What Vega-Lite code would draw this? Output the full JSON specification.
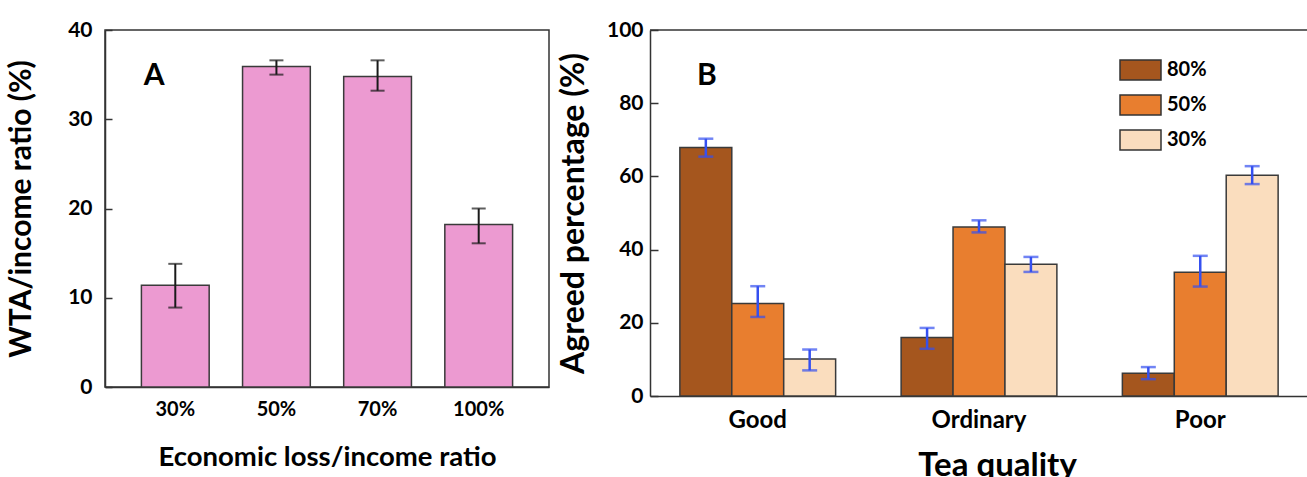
{
  "$schema": "https://vega.github.io/schema/vega-lite/v6.json",
  "background": "white",
  "padding": {"left": 5, "top": 18, "right": 0, "bottom": 0},
  "spacing": 101,
  "bounds": "flush",
  "config": {
    "font": "Lato",
    "view": {"stroke": null},
    "axis": {
      "labelFont": "Lato", "titleFont": "Lato",
      "labelFontWeight": "bold", "titleFontWeight": "bold",
      "labelColor": "#000", "titleColor": "#000",
      "domainColor": "#333", "tickColor": "#333",
      "domainWidth": 1.5, "tickWidth": 1.5,
      "grid": false, "zindex": 1
    }
  },
  "hconcat": [
    {
      "width": 444,
      "height": 357,
      "view": {"stroke": "#333", "strokeWidth": 1.5},
      "data": {"values": [
        {"loss": "30%", "v": 11.4, "lo": 8.9, "hi": 13.8},
        {"loss": "50%", "v": 35.9, "lo": 35.0, "hi": 36.6},
        {"loss": "70%", "v": 34.8, "lo": 33.2, "hi": 36.6},
        {"loss": "100%", "v": 18.2, "lo": 16.1, "hi": 20.0}
      ]},
      "encoding": {
        "x": {
          "field": "loss", "type": "nominal", "sort": ["30%", "50%", "70%", "100%"],
          "scale": {"paddingInner": 0.33, "paddingOuter": 0.36},
          "axis": {
            "title": "Economic loss/income ratio", "titleFontSize": 27.5, "titlePadding": 24,
            "labelFontSize": 20, "labelAngle": 0, "tickSize": -8, "labelPadding": 20
          }
        }
      },
      "layer": [
        {
          "mark": {"type": "bar", "fill": "#EC9AD1", "stroke": "#3a3a3a", "strokeWidth": 1.5},
          "encoding": {
            "y": {
              "field": "v", "type": "quantitative",
              "scale": {"domain": [0, 40]},
              "axis": {
                "title": "WTA/income ratio (%)", "titleFontSize": 30, "titlePadding": 31,
                "values": [0, 10, 20, 30, 40], "labelFontSize": 21,
                "tickSize": -7, "labelPadding": 20
              }
            }
          }
        },
        {
          "mark": {"type": "rule", "color": "#1a1a1a", "strokeWidth": 2},
          "encoding": {"y": {"field": "lo", "type": "quantitative"}, "y2": {"field": "hi"}}
        },
        {
          "mark": {"type": "tick", "color": "#1a1a1a", "thickness": 2, "size": 14},
          "encoding": {"y": {"field": "lo", "type": "quantitative"}}
        },
        {
          "mark": {"type": "tick", "color": "#1a1a1a", "thickness": 2, "size": 14},
          "encoding": {"y": {"field": "hi", "type": "quantitative"}}
        },
        {
          "data": {"values": [{"label": "A"}]},
          "mark": {"type": "text", "fontSize": 30, "fontWeight": "bold", "font": "Lato", "dx": -21, "baseline": "middle", "align": "center", "color": "#000"},
          "encoding": {
            "x": {"datum": "30%"},
            "y": {"datum": 34.8},
            "text": {"field": "label"}
          }
        }
      ]
    },
    {
      "width": 658,
      "height": 366,
      "data": {"values": [
        {"q": "Good", "s": "80%", "v": 67.9, "lo": 65.4, "hi": 70.3},
        {"q": "Good", "s": "50%", "v": 25.3, "lo": 21.6, "hi": 30.0},
        {"q": "Good", "s": "30%", "v": 10.1, "lo": 7.0, "hi": 12.7},
        {"q": "Ordinary", "s": "80%", "v": 16.0, "lo": 12.9, "hi": 18.6},
        {"q": "Ordinary", "s": "50%", "v": 46.2, "lo": 44.7, "hi": 48.0},
        {"q": "Ordinary", "s": "30%", "v": 36.0, "lo": 33.9, "hi": 38.0},
        {"q": "Poor", "s": "80%", "v": 6.2, "lo": 4.6, "hi": 7.9},
        {"q": "Poor", "s": "50%", "v": 33.8, "lo": 29.9, "hi": 38.3},
        {"q": "Poor", "s": "30%", "v": 60.3, "lo": 57.9, "hi": 62.8}
      ]},
      "layer": [
        {
          "mark": {"type": "bar", "stroke": "#3a3a3a", "strokeWidth": 1.5},
          "encoding": {
            "x": {
              "field": "q", "type": "nominal", "sort": ["Good", "Ordinary", "Poor"],
              "scale": {"paddingInner": 0.296, "paddingOuter": 0.135, "align": 0.5},
              "axis": {
                "title": "Tea quality", "titleFontSize": 33, "titlePadding": 17, "titleX": 347,
                "labelFontSize": 24, "labelAngle": 0, "tickSize": -8, "labelPadding": 20
              }
            },
            "xOffset": {
              "field": "s", "type": "nominal", "sort": ["80%", "50%", "30%"],
              "scale": {"paddingInner": 0, "paddingOuter": 0}
            },
            "y": {
              "field": "v", "type": "quantitative",
              "scale": {"domain": [0, 100]},
              "axis": {
                "title": "Agreed percentage (%)", "titleFontSize": 32, "titlePadding": 16,
                "values": [0, 20, 40, 60, 80, 100], "labelFontSize": 21,
                "tickSize": -8, "labelPadding": 15
              }
            },
            "color": {
              "field": "s", "type": "nominal",
              "scale": {"domain": ["80%", "50%", "30%"], "range": ["#A5561E", "#E87E2F", "#FADDBE"]},
              "legend": {
                "title": null, "orient": "none", "legendX": 1014, "legendY": 18.5,
                "symbolType": "M-1,-0.49L1,-0.49L1,0.49L-1,0.49Z", "symbolSize": 1681,
                "symbolStrokeColor": "#333", "symbolStrokeWidth": 1.5, "symbolOpacity": 1,
                "labelFont": "Lato", "labelFontWeight": "bold", "labelFontSize": 20, "labelColor": "#000",
                "labelOffset": 5, "rowPadding": -9, "padding": 0
              }
            }
          }
        },
        {
          "mark": {"type": "rule", "color": "#3550F0", "strokeWidth": 2.5},
          "encoding": {
            "x": {"field": "q", "type": "nominal", "sort": ["Good", "Ordinary", "Poor"]},
            "xOffset": {"field": "s", "type": "nominal", "sort": ["80%", "50%", "30%"]},
            "y": {"field": "lo", "type": "quantitative"}, "y2": {"field": "hi"}
          }
        },
        {
          "mark": {"type": "tick", "color": "#3550F0", "thickness": 2.5, "size": 15},
          "encoding": {
            "x": {"field": "q", "type": "nominal", "sort": ["Good", "Ordinary", "Poor"]},
            "xOffset": {"field": "s", "type": "nominal", "sort": ["80%", "50%", "30%"]},
            "y": {"field": "lo", "type": "quantitative"}
          }
        },
        {
          "mark": {"type": "tick", "color": "#3550F0", "thickness": 2.5, "size": 15},
          "encoding": {
            "x": {"field": "q", "type": "nominal", "sort": ["Good", "Ordinary", "Poor"]},
            "xOffset": {"field": "s", "type": "nominal", "sort": ["80%", "50%", "30%"]},
            "y": {"field": "hi", "type": "quantitative"}
          }
        },
        {
          "data": {"values": [{"top": 100}]},
          "mark": {"type": "rule", "color": "#333", "strokeWidth": 1.5},
          "encoding": {"y": {"field": "top", "type": "quantitative"}}
        },
        {
          "data": {"values": [{"label": "B", "q": "Good", "s": "80%"}]},
          "mark": {"type": "text", "fontSize": 30, "fontWeight": "bold", "font": "Lato", "dx": 1, "baseline": "middle", "align": "center", "color": "#000"},
          "encoding": {
            "x": {"field": "q", "type": "nominal", "sort": ["Good", "Ordinary", "Poor"]},
            "xOffset": {"field": "s", "type": "nominal", "sort": ["80%", "50%", "30%"]},
            "y": {"datum": 87.4},
            "text": {"field": "label"}
          }
        }
      ]
    }
  ]
}
